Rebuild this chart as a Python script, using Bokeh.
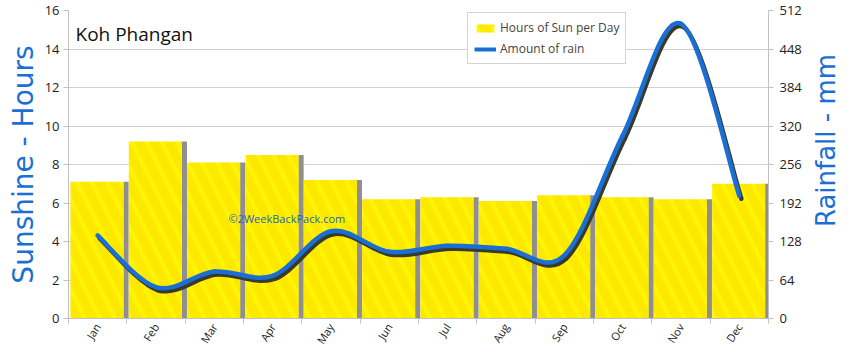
import math
from bokeh.plotting import figure
from bokeh.layouts import row
from bokeh.models import (Range1d, LinearAxis, FixedTicker, Legend, LegendItem,
                          ColumnDataSource, Label)
from bokeh.embed import file_html
from bokeh.resources import INLINE

months = ["Jan", "Feb", "Mar", "Apr", "May", "Jun", "Jul", "Aug", "Sep", "Oct", "Nov", "Dec"]
sun_hours = [7.1, 9.2, 8.1, 8.5, 7.2, 6.2, 6.3, 6.1, 6.4, 6.3, 6.2, 7.0]
rain_mm = [138, 52, 78, 71, 145, 111, 121, 116, 105, 304, 490, 204]
left_ticks = [0, 2, 4, 6, 8, 10, 12, 14, 16]
right_ticks = [0, 64, 128, 192, 256, 320, 384, 448, 512]

FONT = "Open Sans"
LFONT = "DejaVu Sans"
BLUE = "#1a6fd4"

n = len(months)
xc = [i + 0.5 for i in range(n)]

p = figure(width=808, height=356, output_backend="svg", toolbar_location=None,
           x_range=Range1d(0, n), y_range=Range1d(0, 16),
           min_border_left=68, min_border_right=40, min_border_top=10, min_border_bottom=38)
p.extra_y_ranges = {"rain": Range1d(0, 512)}
p.outline_line_color = None
p.background_fill_color = "white"
p.border_fill_color = "white"

# bars: gray shadow strip + yellow bar
src = ColumnDataSource(dict(x=xc, top=sun_hours,
                            xs=[x + 0.486 for x in xc], xb=[x - 0.011 for x in xc]))
p.vbar(x="xs", top="top", width=0.09, source=src, fill_color="#8f8f8f",
       line_color=None)
bars = p.vbar(x="xb", top="top", width=0.91, source=src, fill_color="#fff500",
              line_color=None, hatch_pattern="left_diagonal_line",
              hatch_color="#f5a800", hatch_alpha=0.16, hatch_scale=30, hatch_weight=9)

# smooth rain line via Catmull-Rom -> Bezier
def bez(xv, yv):
    m = len(xv)
    d = dict(x0=[], y0=[], x1=[], y1=[], cx0=[], cy0=[], cx1=[], cy1=[])
    for i in range(m - 1):
        p0 = (xv[max(i - 1, 0)], yv[max(i - 1, 0)])
        p1 = (xv[i], yv[i])
        p2 = (xv[i + 1], yv[i + 1])
        p3 = (xv[min(i + 2, m - 1)], yv[min(i + 2, m - 1)])
        d["x0"].append(p1[0]); d["y0"].append(p1[1])
        d["x1"].append(p2[0]); d["y1"].append(p2[1])
        d["cx0"].append(p1[0] + (p2[0] - p0[0]) / 6)
        d["cy0"].append(p1[1] + (p2[1] - p0[1]) / 6)
        d["cx1"].append(p2[0] - (p3[0] - p1[0]) / 6)
        d["cy1"].append(p2[1] - (p3[1] - p1[1]) / 6)
    return d

shadow = bez([x + 0.035 for x in xc], [r - 5 for r in rain_mm])
p.bezier(source=ColumnDataSource(shadow), x0="x0", y0="y0", x1="x1", y1="y1",
         cx0="cx0", cy0="cy0", cx1="cx1", cy1="cy1", y_range_name="rain",
         line_color="#3a3a2c", line_width=4.5, line_cap="round")
main = bez(xc, rain_mm)
p.bezier(source=ColumnDataSource(main), x0="x0", y0="y0", x1="x1", y1="y1",
         cx0="cx0", cy0="cy0", cx1="cx1", cy1="cy1", y_range_name="rain",
         line_color=BLUE, line_width=4.5, line_cap="round")
leg_line = p.line(x=[float("nan")], y=[float("nan")], line_color=BLUE, line_width=4,
                  y_range_name="rain")

# axes
p.xgrid.visible = False
p.ygrid.ticker = FixedTicker(ticks=left_ticks)
p.ygrid.grid_line_color = "#d0d0d0"

xa = p.xaxis[0]
xa.ticker = FixedTicker(ticks=xc, minor_ticks=list(range(n + 1)))
xa.major_label_overrides = {x: m for x, m in zip(xc, months)}
xa.major_tick_out = 0
xa.major_tick_in = 0
xa.minor_tick_out = 5
xa.minor_tick_in = 0
xa.minor_tick_line_color = "#c0c0c0"
xa.axis_line_color = "#c0c0c0"
xa.major_label_orientation = 1.0
xa.major_label_standoff = 1
xa.major_label_text_font = FONT
xa.major_label_text_font_size = "11px"
xa.major_label_text_color = "#222"

ya = p.yaxis[0]
ya.ticker = FixedTicker(ticks=left_ticks)
ya.axis_label = "Sunshine - Hours"
ya.axis_label_text_color = BLUE
ya.axis_label_text_font = LFONT
ya.axis_label_text_font_size = "28px"
ya.axis_label_text_font_style = "normal"
ya.axis_label_standoff = 2
ya.major_label_standoff = 4
ya.axis_line_color = "#c0c0c0"
ya.major_tick_line_color = "#c0c0c0"
ya.major_tick_out = 5
ya.major_tick_in = 0
ya.minor_tick_line_color = None
ya.major_label_text_font = FONT
ya.major_label_text_font_size = "13px"
ya.major_label_text_color = "#222"

ra = LinearAxis(y_range_name="rain", ticker=FixedTicker(ticks=right_ticks))
ra.major_label_standoff = 6
ra.axis_line_color = "#c0c0c0"
ra.major_tick_line_color = "#c0c0c0"
ra.major_tick_out = 5
ra.major_tick_in = 0
ra.minor_tick_line_color = None
ra.major_label_text_font = FONT
ra.major_label_text_font_size = "13px"
ra.major_label_text_color = "#222"
p.add_layout(ra, "right")

# title inside plot
p.add_layout(Label(x=7, y=272, x_units="screen", y_units="screen", text="Koh Phangan",
                   text_font=FONT, text_font_size="19px", text_color="#111"))
p.add_layout(Label(x=160, y=93, x_units="screen", y_units="screen",
                   text="\u00a92WeekBackPack.com", text_font=FONT,
                   text_font_size="11px", text_color="#1f5fc8"))

legend = Legend(items=[LegendItem(label="Hours of Sun per Day", renderers=[bars]),
                       LegendItem(label="Amount of rain", renderers=[leg_line])],
                location=(399, 254), label_text_font=FONT, label_text_font_size="12px",
                border_line_color="#aaaaaa", background_fill_alpha=1.0,
                glyph_width=22, glyph_height=10, spacing=4, padding=6, margin=0,
                label_standoff=4)
p.add_layout(legend)

# narrow side panel holding the right axis title (reads bottom to top)
side = figure(width=42, height=356, output_backend="svg", toolbar_location=None,
              x_range=Range1d(0, 1), y_range=Range1d(0, 1), min_border=0)
side.axis.visible = False
side.grid.visible = False
side.outline_line_color = None
side.add_layout(Label(x=17, y=178, x_units="screen", y_units="screen", text="Rainfall - mm",
                      angle=math.pi / 2, text_align="center", text_baseline="middle",
                      text_font=LFONT, text_font_size="26px", text_color=BLUE))

layout = row(p, side, spacing=0)
open("out.html", "w").write(file_html(layout, INLINE))
